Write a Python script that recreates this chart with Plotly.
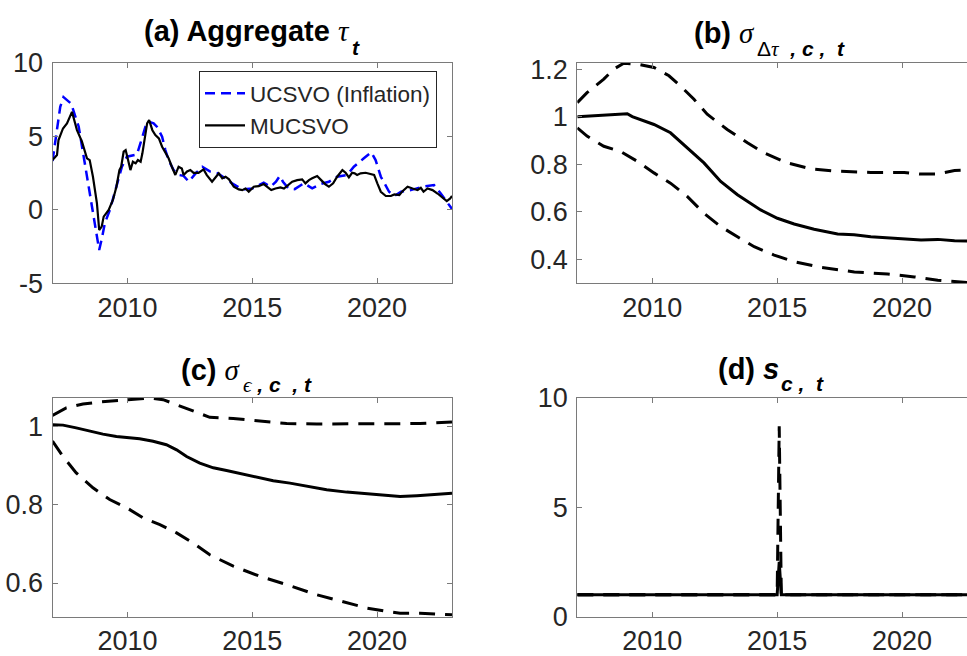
import plotly.graph_objects as go

# ---- panel (a): aggregate trend, two models ----
muc_t = [2007.00, 2007.18, 2007.24, 2007.42, 2007.58, 2007.78, 2007.98, 2008.18, 2008.38, 2008.49,
         2008.62, 2008.78, 2008.87, 2008.97, 2009.05, 2009.25, 2009.42, 2009.56, 2009.68, 2009.75,
         2009.85, 2009.93, 2010.01, 2010.12, 2010.22, 2010.33, 2010.42, 2010.53, 2010.60, 2010.69,
         2010.79, 2010.87, 2011.00, 2011.12, 2011.26, 2011.39, 2011.52, 2011.65, 2011.78, 2011.92,
         2012.05, 2012.18, 2012.25, 2012.39, 2012.52, 2012.65, 2012.85, 2013.05, 2013.18, 2013.39,
         2013.55, 2013.66, 2013.80, 2013.93, 2014.07, 2014.26, 2014.46, 2014.60, 2014.73, 2014.86,
         2015.06, 2015.26, 2015.46, 2015.60, 2015.76, 2015.93, 2016.13, 2016.27, 2016.43, 2016.60,
         2016.80, 2017.00, 2017.13, 2017.27, 2017.40, 2017.60, 2017.76, 2017.93, 2018.07, 2018.24,
         2018.40, 2018.61, 2018.74, 2018.87, 2019.00, 2019.10, 2019.20, 2019.34, 2019.54, 2019.74,
         2019.88, 2020.01, 2020.15, 2020.35, 2020.55, 2020.69, 2020.89, 2021.02, 2021.22, 2021.42,
         2021.62, 2021.75, 2021.86, 2022.02, 2022.22, 2022.42, 2022.62, 2022.79, 2022.93, 2023.00]
muc_v = [3.37, 3.71, 4.73, 5.52, 5.86, 6.65, 5.41, 4.62, 3.49, 3.37,
         2.24, 0.43, -1.38, -1.15, -0.47, -0.02, 0.66, 1.56, 2.69, 2.92,
         3.94, 4.05, 3.49, 2.69, 3.26, 3.15, 3.37, 3.26, 3.83, 4.96,
         5.86, 6.09, 5.40, 5.07, 4.84, 4.28, 3.83, 3.49, 2.92, 2.36,
         2.92, 2.80, 2.36, 2.60, 2.70, 2.50, 2.50, 2.74, 2.35, 1.90,
         2.24, 2.47, 2.13, 2.24, 2.06, 1.56, 1.38, 1.33, 1.44, 1.22,
         1.56, 1.60, 1.74, 1.56, 1.33, 1.44, 1.51, 1.44, 1.67, 1.90,
         2.01, 2.06, 1.79, 2.01, 2.13, 2.29, 2.01, 1.72, 1.56, 1.79,
         2.24, 2.69, 2.51, 2.20, 2.51, 2.47, 2.36, 2.47, 2.51, 2.42,
         2.36, 1.79, 1.22, 0.93, 0.93, 1.04, 0.99, 1.26, 1.56, 1.44,
         1.33, 1.49, 1.22, 1.44, 1.33, 1.10, 0.81, 0.59, 0.77, 0.93]

ucs_t = [2007.00, 2007.10, 2007.18, 2007.31, 2007.44, 2007.58, 2007.75, 2007.90, 2008.05, 2008.25,
         2008.45, 2008.62, 2008.78, 2008.87, 2008.97, 2009.10, 2009.30, 2009.45, 2009.58, 2009.78,
         2009.98, 2010.18, 2010.38, 2010.52, 2010.72, 2010.86, 2011.05, 2011.18, 2011.39, 2011.52,
         2011.65, 2011.85, 2012.05, 2012.25, 2012.46, 2012.75, 2013.00, 2013.30, 2013.62, 2013.90,
         2014.19, 2014.60, 2015.00, 2015.46, 2015.73, 2015.95, 2016.10, 2016.23, 2016.45, 2016.70,
         2017.07, 2017.40, 2017.73, 2018.07, 2018.40, 2018.80, 2019.07, 2019.47, 2019.77, 2019.94,
         2020.15, 2020.48, 2020.69, 2020.96, 2021.35, 2021.82, 2022.28, 2022.55, 2022.80, 2023.00]
ucs_v = [3.30, 4.50, 5.64, 6.99, 7.65, 7.45, 7.20, 6.40, 5.64, 3.60,
         1.56, -0.47, -2.06, -2.74, -2.00, -0.90, 0.00, 0.90, 1.79, 2.92,
         3.60, 3.65, 3.75, 4.50, 5.64, 5.98, 5.86, 5.64, 4.96, 4.05,
         3.37, 2.69, 2.36, 2.30, 1.90, 2.50, 2.92, 2.60, 2.47, 2.15,
         1.79, 1.38, 1.44, 1.83, 1.56, 1.90, 2.29, 1.90, 1.45, 1.40,
         1.80, 1.45, 1.75, 1.90, 2.24, 2.36, 2.92, 3.49, 3.90, 3.37,
         2.24, 1.22, 0.93, 1.22, 1.33, 1.56, 1.67, 1.10, 0.54, 0.05]

# ---- panel (b): sigma_{dtau,c,t} median and bands ----
b_mid_t = [2007.00, 2008.06, 2009.00, 2009.20, 2010.07, 2010.73, 2011.40, 2012.07, 2012.74, 2013.41,
           2014.34, 2015.01, 2015.68, 2016.48, 2017.42, 2018.08, 2018.75, 2019.42, 2020.09, 2020.76,
           2021.43, 2022.10, 2022.63, 2023.00]
b_mid_v = [1.000, 1.005, 1.012, 1.000, 0.967, 0.932, 0.869, 0.805, 0.727, 0.671,
           0.607, 0.572, 0.548, 0.526, 0.506, 0.502, 0.494, 0.490, 0.483, 0.480,
           0.483, 0.477, 0.476, 0.475]
b_up_t = [2007.00, 2007.39, 2008.06, 2008.46, 2008.86, 2009.40, 2010.07, 2010.67, 2011.13, 2011.67,
          2012.20, 2013.00, 2013.81, 2014.48, 2015.41, 2016.35, 2017.42, 2018.75, 2020.09, 2020.76,
          2021.43, 2022.10, 2022.63, 2023.00]
b_up_v = [1.059, 1.101, 1.158, 1.200, 1.225, 1.221, 1.207, 1.172, 1.129, 1.073,
          1.010, 0.946, 0.890, 0.847, 0.805, 0.780, 0.770, 0.765, 0.765, 0.758,
          0.758, 0.773, 0.775, 0.778]
b_lo_t = [2007.00, 2007.39, 2008.06, 2008.72, 2009.40, 2010.07, 2010.73, 2011.40, 2012.07, 2012.74,
          2013.41, 2014.08, 2014.88, 2015.68, 2016.75, 2018.09, 2019.42, 2020.49, 2021.43, 2022.63,
          2023.00]
b_lo_v = [0.953, 0.918, 0.875, 0.854, 0.812, 0.763, 0.720, 0.664, 0.593, 0.537,
          0.494, 0.452, 0.417, 0.389, 0.365, 0.346, 0.337, 0.325, 0.311, 0.300,
          0.298]

# ---- panel (c): sigma_{eps,c,t} median and bands ----
c_mid_t = [2007.00, 2007.42, 2007.95, 2008.49, 2009.02, 2009.56, 2010.00, 2010.49, 2011.03, 2011.56,
           2011.97, 2012.37, 2012.90, 2013.44, 2013.97, 2014.64, 2015.31, 2015.84, 2016.51, 2017.18,
           2017.98, 2018.78, 2019.59, 2020.25, 2020.92, 2021.59, 2022.26, 2023.00]
c_mid_v = [1.004, 1.003, 0.996, 0.987, 0.980, 0.974, 0.972, 0.968, 0.962, 0.953,
           0.940, 0.923, 0.906, 0.894, 0.887, 0.878, 0.868, 0.861, 0.855, 0.847,
           0.838, 0.832, 0.828, 0.824, 0.821, 0.823, 0.826, 0.829]
c_up_t = [2007.00, 2007.55, 2008.22, 2008.89, 2009.69, 2010.23, 2010.90, 2011.43, 2011.97, 2012.63,
          2013.30, 2014.24, 2015.31, 2016.38, 2017.58, 2018.92, 2020.25, 2021.72, 2023.00]
c_up_v = [1.028, 1.047, 1.057, 1.062, 1.066, 1.068, 1.072, 1.068, 1.055, 1.038,
          1.023, 1.020, 1.013, 1.007, 1.006, 1.006, 1.006, 1.007, 1.011]
c_lo_t = [2007.00, 2007.42, 2007.95, 2008.62, 2009.29, 2010.00, 2010.63, 2011.30, 2011.97, 2012.63,
          2013.30, 2014.24, 2015.31, 2016.38, 2017.58, 2018.78, 2019.59, 2020.25, 2020.92, 2021.72,
          2023.00]
c_lo_v = [0.962, 0.923, 0.881, 0.843, 0.813, 0.791, 0.766, 0.749, 0.728, 0.702,
          0.672, 0.643, 0.617, 0.596, 0.570, 0.549, 0.536, 0.529, 0.523, 0.523,
          0.519]

# ---- panel (d): outlier scale s_{c,t} ----
d_t = [2007.00, 2015.00, 2015.083, 2015.167, 2023.00]
d_mid_v = [1.0, 1.0, 2.5, 1.0, 1.0]
d_up_v = [1.0, 1.0, 8.7, 1.0, 1.0]
d_lo_v = [1.0, 1.0, 1.0, 1.0, 1.0]

W, H = 967, 656
FONT = "Liberation Sans, Arial, Helvetica, sans-serif"
SERIF = "Liberation Serif, Times New Roman, serif"
TXT = "#262626"
AX = "#7a7a7a"
X_LEFT = [52.5 / W, 452.0 / W]
X_RIGHT = [577.3 / W, 1.0]
Y_TOP = [1 - 283.3 / H, 1 - 62.5 / H]
Y_BOT = [1 - 616.7 / H, 1 - 397.7 / H]
PX_PER_YEAR = 399.7 / 16.0
RIGHT_END = 2007 + (W - 577.3) / PX_PER_YEAR

fig = go.Figure()

fig.add_trace(go.Scatter(x=ucs_t, y=ucs_v, mode="lines", name="UCSVO (Inflation)",
                         line=dict(color="#0000ff", width=2.5, dash="10px,6px"),
                         xaxis="x", yaxis="y"))
fig.add_trace(go.Scatter(x=muc_t, y=muc_v, mode="lines", name="MUCSVO",
                         line=dict(color="black", width=2.2),
                         xaxis="x", yaxis="y"))

DASH = "16px,10px"
for (xs_list, ax_x, ax_y) in [
    ([(b_up_t, b_up_v, DASH), (b_lo_t, b_lo_v, DASH), (b_mid_t, b_mid_v, "solid")], "x2", "y2"),
    ([(c_up_t, c_up_v, DASH), (c_lo_t, c_lo_v, DASH), (c_mid_t, c_mid_v, "solid")], "x3", "y3"),
    ([(d_t, d_lo_v, DASH), (d_t, d_up_v, DASH), (d_t, d_mid_v, "solid")], "x4", "y4"),
]:
    for xs, ys, dsh in xs_list:
        fig.add_trace(go.Scatter(x=xs, y=ys, mode="lines", showlegend=False,
                                 line=dict(color="black", width=3, dash=dsh),
                                 xaxis=ax_x, yaxis=ax_y))


def axis_style(**kw):
    base = dict(showline=True, linecolor=AX, linewidth=1, mirror="ticks",
                ticks="inside", ticklen=5, tickcolor=AX, tickwidth=1,
                showgrid=False, zeroline=False, fixedrange=True, automargin=False,
                tickfont=dict(family=FONT, size=27, color=TXT))
    base.update(kw)
    return base


xt = dict(tickvals=[2010, 2015, 2020], ticktext=["2010", "2015", "2020"], ticklabelstandoff=0)
YSO = 3
fig.update_layout(
    width=W, height=H, margin=dict(l=0, r=0, t=0, b=0, autoexpand=False),
    paper_bgcolor="white", plot_bgcolor="white",
    font=dict(family=FONT, color=TXT),
    xaxis=axis_style(domain=X_LEFT, range=[2007, 2023], anchor="y", **xt),
    yaxis=axis_style(domain=Y_TOP, range=[-5, 10], anchor="x",
                     tickvals=[-5, 0, 5, 10], ticktext=["-5", "0", "5", "10"], ticklabelstandoff=YSO),
    xaxis2=axis_style(domain=X_RIGHT, range=[2007, RIGHT_END], anchor="y2", **xt),
    yaxis2=axis_style(domain=Y_TOP, range=[0.298, 1.228], anchor="x2", mirror=False,
                      tickvals=[0.4, 0.6, 0.8, 1.0, 1.2], ticktext=["0.4", "0.6", "0.8", "1", "1.2"],
                      ticklabelstandoff=YSO),
    xaxis3=axis_style(domain=X_LEFT, range=[2007, 2023], anchor="y3", **xt),
    yaxis3=axis_style(domain=Y_BOT, range=[0.514, 1.073], anchor="x3",
                      tickvals=[0.6, 0.8, 1.0], ticktext=["0.6", "0.8", "1"], ticklabelstandoff=YSO),
    xaxis4=axis_style(domain=X_RIGHT, range=[2007, RIGHT_END], anchor="y4", **xt),
    yaxis4=axis_style(domain=Y_BOT, range=[0, 10], anchor="x4", mirror=False,
                      tickvals=[0, 5, 10], ticktext=["0", "5", "10"], ticklabelstandoff=YSO),
    legend=dict(x=199 / W, y=1 - 71 / H, xanchor="left", yanchor="top",
                bordercolor="#262626", borderwidth=1, bgcolor="white", itemwidth=40,
                font=dict(family=FONT, size=22.5, color=TXT), tracegroupgap=0),
)


def sig(ch):
    return '<span style="font-family:%s"><i>%s</i></span>' % (SERIF, ch)


NB = "\u00a0"
# Panel titles: main part right-aligned at the join, subscript left-aligned after it.
# (main text, subscript text, join x, main middle y, subscript middle y)
titles = [
    ("<b>(a) Aggregate</b> " + sig("τ"), "<b><i>t</i></b>", 352, 31, 47),
    ("<b>(b)</b> " + sig("σ"), "Δ" + sig("τ") + "<b><i>" + NB + " ," + NB + "c ," + NB + NB + "t</i></b>",
     757, 33, 49),
    ("<b>(c)</b> " + sig("σ"), sig("ϵ") + "<b><i> , c " + NB + ", t</i></b>", 243, 370, 385),
    ("<b>(d)</b> <b><i>s</i></b>", "<b><i>c ," + NB + " t</i></b>", 781, 369, 383),
]
for main, sub, jx, my, sy in titles:
    fig.add_annotation(text=main, x=jx / W, y=1 - my / H, xref="paper", yref="paper",
                       xanchor="right", yanchor="middle", showarrow=False,
                       font=dict(family=FONT, size=29, color="black"))
    fig.add_annotation(text=sub, x=(jx - 2) / W, y=1 - sy / H, xref="paper", yref="paper",
                       xanchor="left", yanchor="middle", showarrow=False,
                       font=dict(family=FONT, size=21, color="black"))

fig.write_html("out.html")
